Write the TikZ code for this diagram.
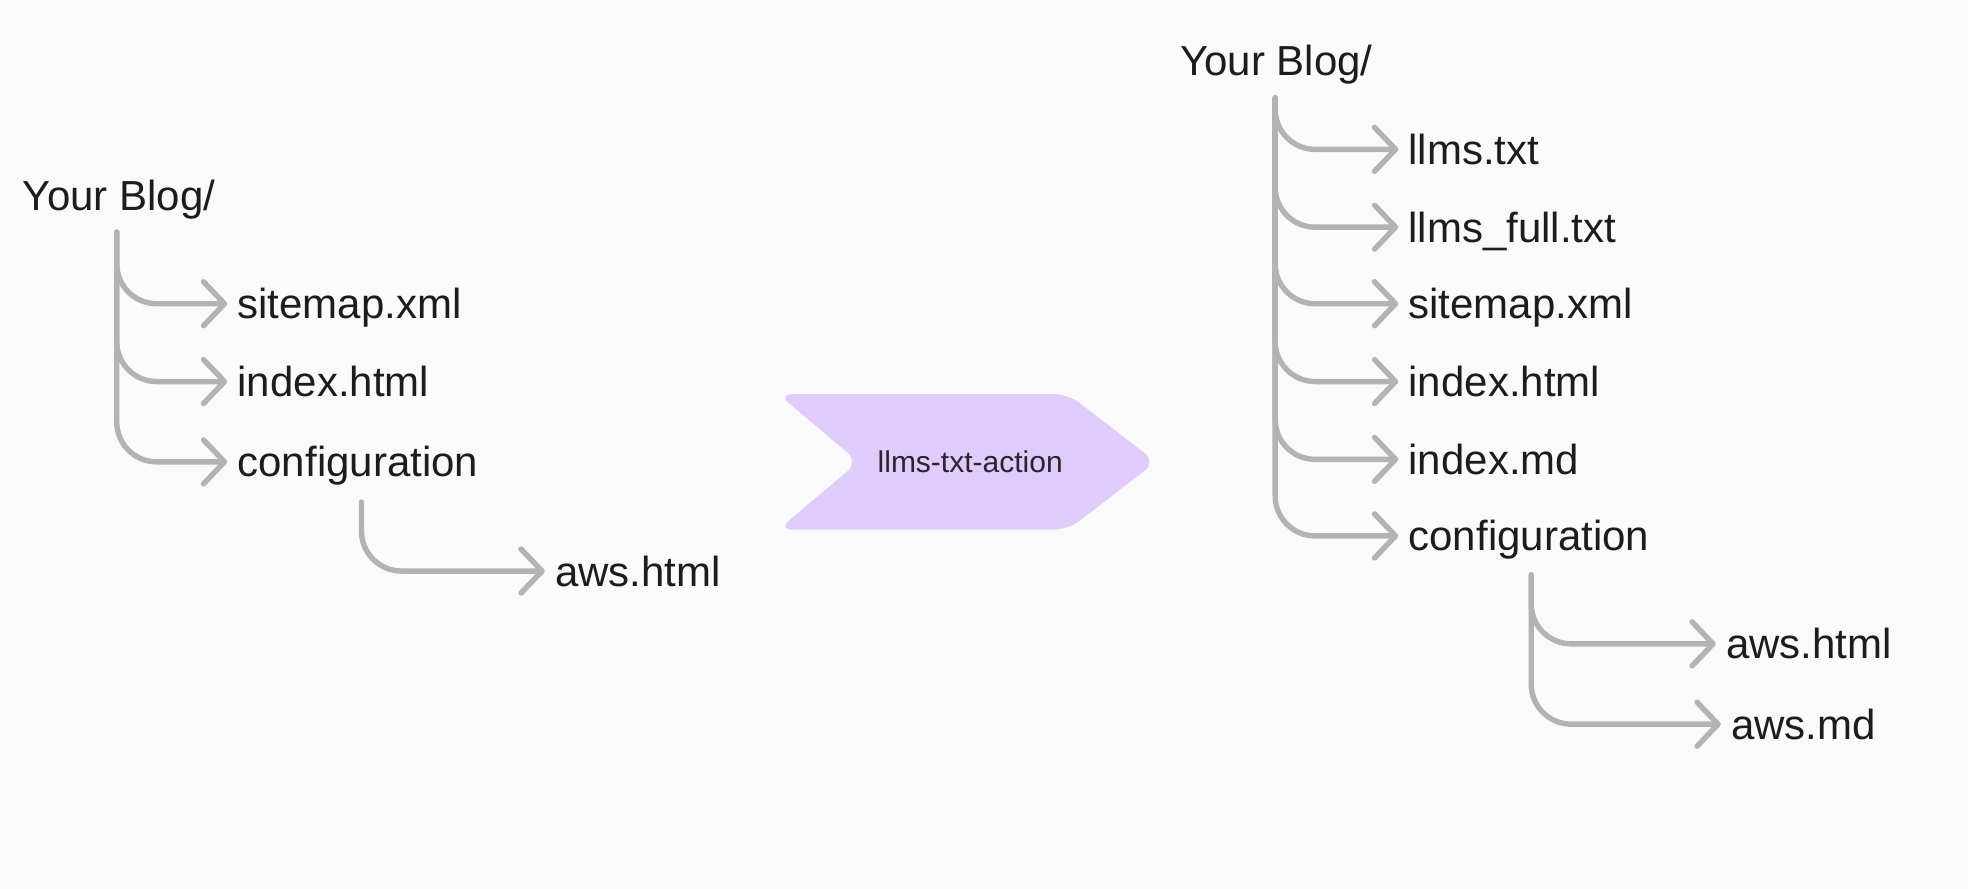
\documentclass[tikz,border=0pt]{standalone}
\usepackage{fontspec}
\setmainfont{Liberation Sans}
\usetikzlibrary{arrows.meta}
\definecolor{bg}{HTML}{FAFAFA}
\definecolor{ln}{HTML}{B3B3B3}
\definecolor{tx}{HTML}{1C1C1C}
\definecolor{pu}{HTML}{E0CCFA}
\definecolor{ptx}{HTML}{2A2330}
\begin{document}
\begin{tikzpicture}[x=0.6275pt,y=-0.6275pt,
 item/.style={anchor=west, inner sep=0pt, font=\fontsize{21}{25}\selectfont, text=tx, text height=17pt, text depth=2pt},
 br/.style={draw=ln, line width=2.7pt, line cap=round, line join=round, rounded corners=20pt, -{Straight Barb[length=10.5pt,width=22pt,round]}},
 act/.style={inner sep=0pt, font=\fontsize{15}{18}\selectfont, text=ptx}]
\fill[bg] (0,0) rectangle (1568,708);
\useasboundingbox (0,0) rectangle (1568,708);
% left tree
\node[item] (lr) at (18,156) {Your Blog/};
\coordinate (lv) at (93,185);
\node[item] (ls) at (189,242) {sitemap.xml};
\node[item] (li) at (189,304) {index.html};
\node[item] (lc) at (189,368) {configuration};
\coordinate (lcv) at (288,400);
\node[item] (la) at (442,455) {aws.html};
\draw[br] (lv) |- ([xshift=-5pt]ls.west);
\draw[br] (lv) |- ([xshift=-5pt]li.west);
\draw[br] (lv) |- ([xshift=-5pt]lc.west);
\draw[br] (lcv) |- ([xshift=-5pt]la.west);
% action shape
\fill[pu, rounded corners=7pt] (620,314) -- (851,314) -- (921,368) -- (851,422) -- (620,422) -- (684,368) -- cycle;
\node[act] (act) at (773,368) {llms-txt-action};
% right tree
\node[item] (rr) at (940,48) {Your Blog/};
\coordinate (rv) at (1016,78);
\node[item] (r1) at (1122,119) {llms.txt};
\node[item] (r2) at (1122,181) {llms\_full.txt};
\node[item] (r3) at (1122,242) {sitemap.xml};
\node[item] (r4) at (1122,304) {index.html};
\node[item] (r5) at (1122,366) {index.md};
\node[item] (r6) at (1122,427) {configuration};
\coordinate (rcv) at (1220,458);
\node[item] (ra1) at (1375,513) {aws.html};
\node[item] (ra2) at (1379,577) {aws.md};
\foreach \n in {r1,r2,r3,r4,r5,r6}{
  \draw[br] (rv) |- ([xshift=-5pt]\n.west);
}
\draw[br] (rcv) |- ([xshift=-5pt]ra1.west);
\draw[br] (rcv) |- ([xshift=-5pt]ra2.west);
\end{tikzpicture}
\end{document}
